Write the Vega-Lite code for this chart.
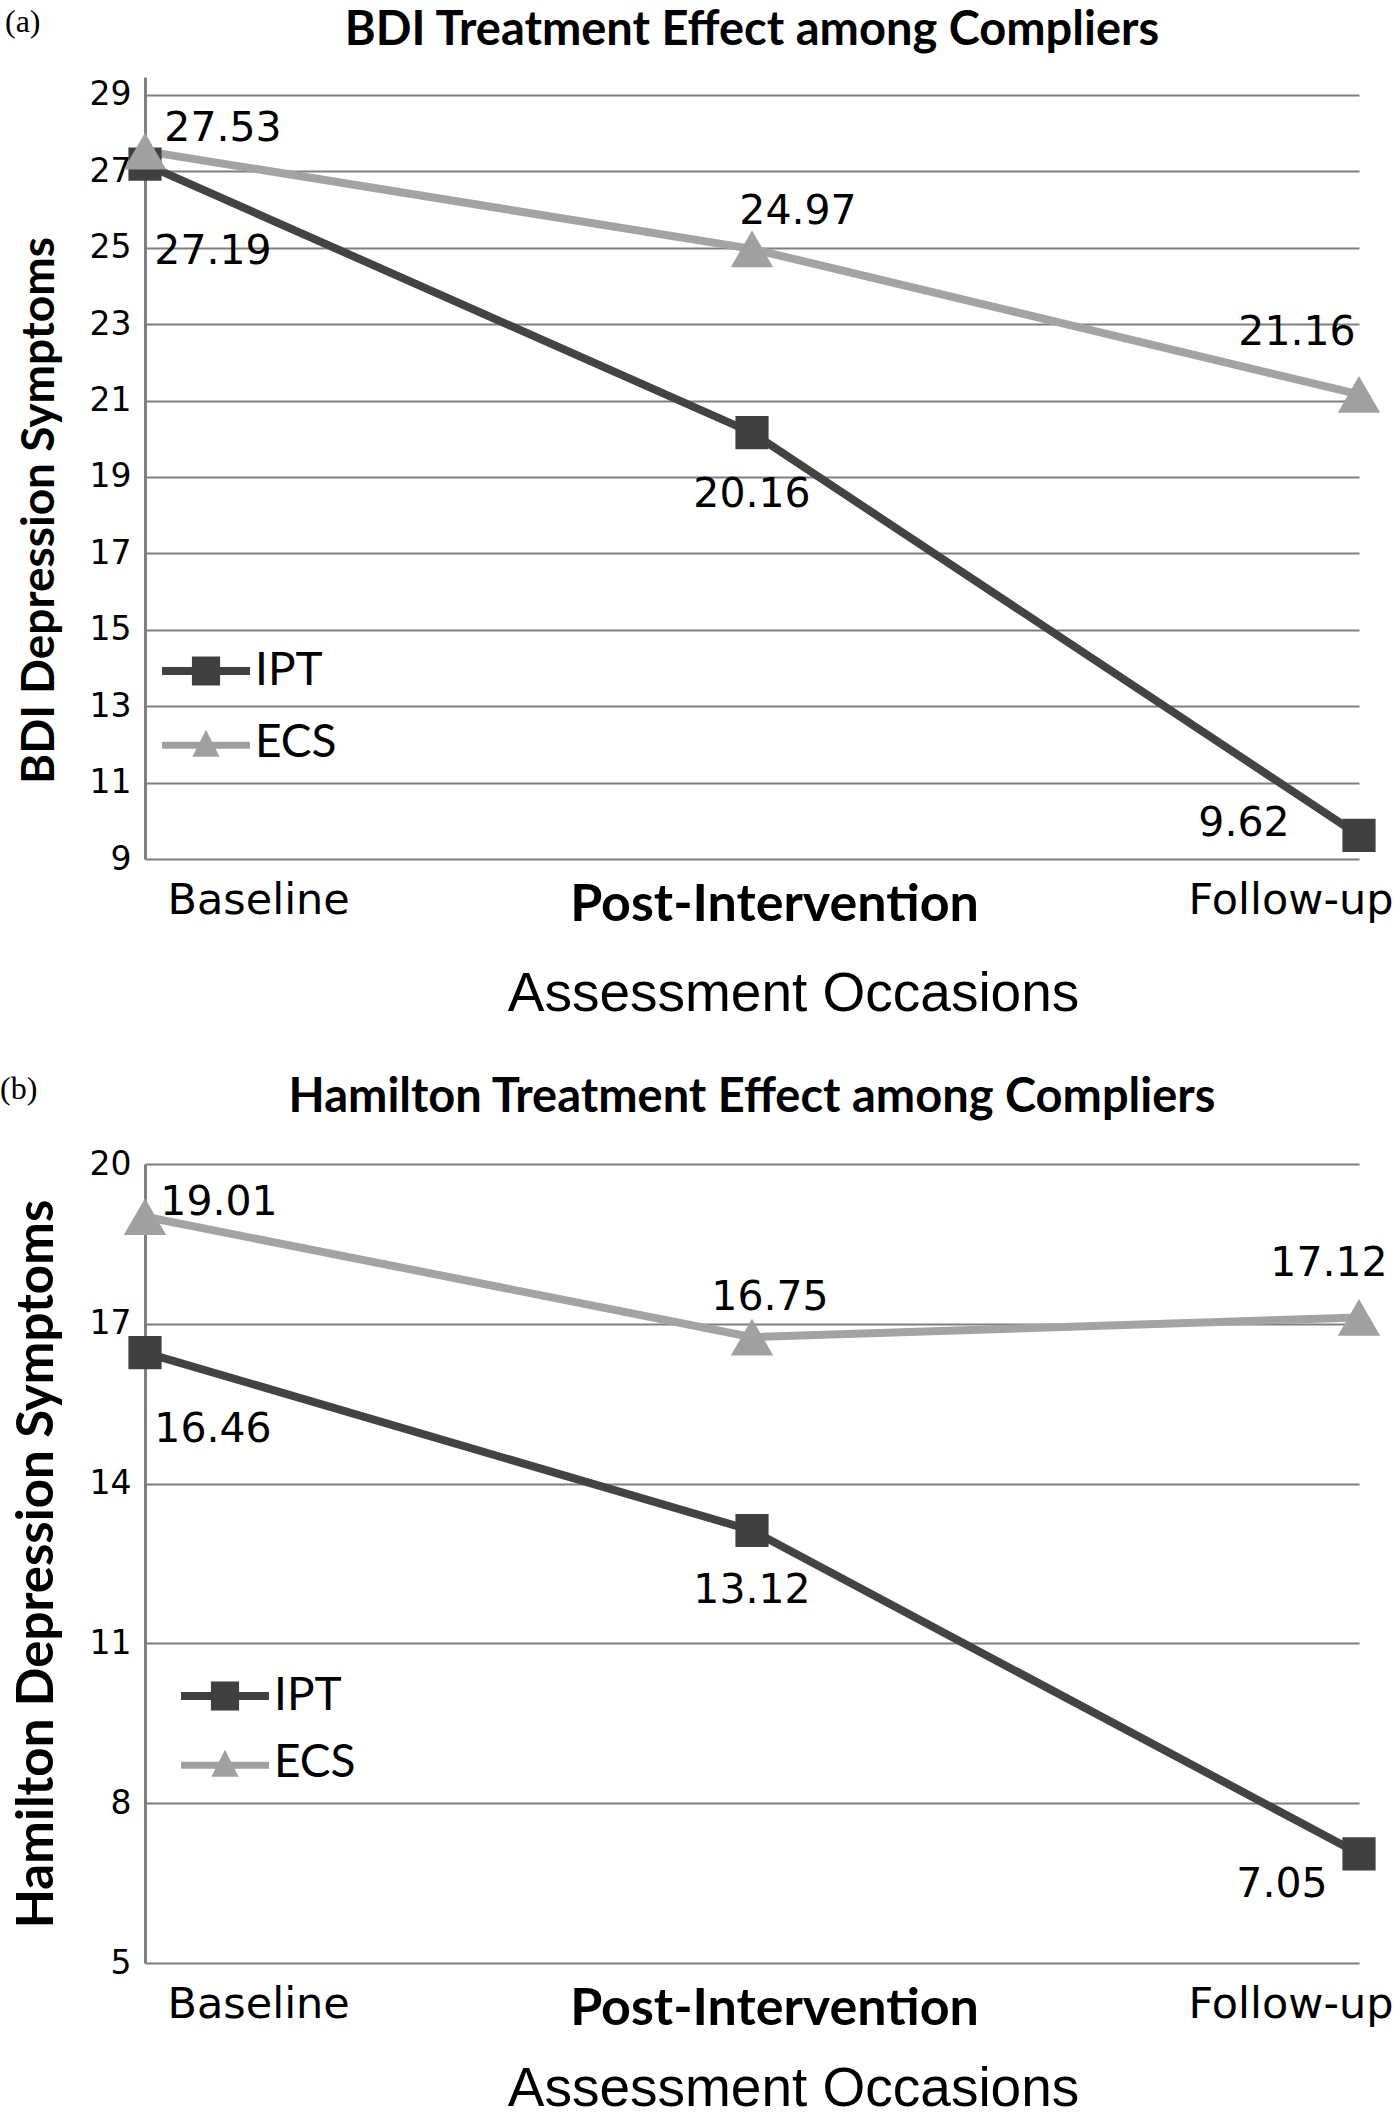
{
  "$schema": "https://vega.github.io/schema/vega-lite/v6.json",
  "background": "white",
  "padding": {"left": 0, "top": 6, "right": 0, "bottom": 0},
  "spacing": 52,
  "resolve": {"legend": {"shape": "independent", "fill": "independent"}},
  "datasets": {
    "bdi": [
      {"occasion": "Baseline", "group": "IPT", "value": 27.19},
      {"occasion": "Post-Intervention", "group": "IPT", "value": 20.16},
      {"occasion": "Follow-up", "group": "IPT", "value": 9.62},
      {"occasion": "Baseline", "group": "ECS", "value": 27.53},
      {"occasion": "Post-Intervention", "group": "ECS", "value": 24.97},
      {"occasion": "Follow-up", "group": "ECS", "value": 21.16}
    ],
    "ham": [
      {"occasion": "Baseline", "group": "IPT", "value": 16.46},
      {"occasion": "Post-Intervention", "group": "IPT", "value": 13.12},
      {"occasion": "Follow-up", "group": "IPT", "value": 7.05},
      {"occasion": "Baseline", "group": "ECS", "value": 19.01},
      {"occasion": "Post-Intervention", "group": "ECS", "value": 16.75},
      {"occasion": "Follow-up", "group": "ECS", "value": 17.12}
    ]
  },
  "config": {
    "view": {"stroke": null},
    "axisX": {
      "domain": false, "ticks": false, "grid": false, "labelAngle": 0, "labelColor": "#000", "labelLimit": 0,
      "labelFont": {"expr": "datum.value === 'Post-Intervention' ? 'Lato' : 'DejaVu Sans'"},
      "labelFontWeight": {"expr": "datum.value === 'Post-Intervention' ? 'bold' : 'normal'"},
      "labelFontSize": {"expr": "datum.value === 'Post-Intervention' ? 52 : 43"},
      "labelAlign": {"expr": "datum.value === 'Baseline' ? 'left' : datum.value === 'Follow-up' ? 'right' : 'center'"},
      "labelOffset": {"expr": "datum.value === 'Follow-up' ? 34 : 22"},
      "labelPadding": 20, "labelOverlap": false, "labelBound": false, "labelFlush": false, "labelBaseline": "top",
      "titleFont": "Liberation Sans", "titleFontSize": 55, "titleFontWeight": "normal", "titleColor": "#000", "titlePadding": 37, "titleX": 648
    },
    "axisY": {
      "grid": true, "gridColor": "#7f7f7f", "gridWidth": 2.2, "domainColor": "#7f7f7f", "domainWidth": 3, "ticks": false,
      "labelFont": "DejaVu Sans", "labelFontSize": 33, "labelColor": "#000", "labelPadding": 14,
      "titleFont": "Lato", "titleFontWeight": "bold", "titleColor": "#000", "titlePadding": 26
    },
    "legend": {
      "orient": "none", "labelFont": "Lato", "labelFontSize": 46, "labelColor": "#000",
      "labelOffset": 5, "symbolStrokeWidth": 0, "symbolSize": 7744, "symbolOpacity": 1
    }
  },
  "vconcat": [
    {
      "title": {"text": "(a)", "anchor": "start", "font": "Liberation Serif", "fontSize": 32, "fontWeight": "normal", "color": "#000", "offset": -32, "frame": "bounds", "dx": -11},
      "resolve": {"legend": {"shape": "independent", "fill": "independent"}},
      "vconcat": [
        {
          "width": 1214, "height": 782,
          "title": {"text": "BDI Treatment Effect among Compliers", "font": "Lato", "fontSize": 47, "fontWeight": "bold", "anchor": "middle", "offset": 22, "color": "#000"},
          "data": {"name": "bdi"},
          "encoding": {
            "x": {"field": "occasion", "type": "ordinal", "scale": {"type": "point", "padding": 0, "domain": ["Baseline", "Post-Intervention", "Follow-up"]}, "axis": {"title": "Assessment Occasions"}},
            "y": {"field": "value", "type": "quantitative", "scale": {"domain": [9, 29.47], "nice": false, "zero": false}, "axis": {"title": "BDI Depression Symptoms", "titleFontSize": 46, "values": [9, 11, 13, 15, 17, 19, 21, 23, 25, 27, 29], "titleY": 433}}
          },
          "layer": [
            {"mark": {"type": "line", "strokeWidth": 8}, "encoding": {"color": {"field": "group", "type": "nominal", "scale": {"domain": ["IPT", "ECS"], "range": ["#434343", "#a3a3a3"]}, "legend": null}}},
            {"transform": [{"filter": "datum.group === 'IPT'"}], "mark": {"type": "point", "shape": "square", "filled": true, "size": 1100, "color": "#404040", "opacity": 1}},
            {"transform": [{"filter": "datum.group === 'ECS'"}], "mark": {"type": "point", "shape": "triangle-up", "filled": true, "size": 1800, "color": "#a0a0a0", "opacity": 1}},
            {
              "transform": [{"filter": "false"}],
              "mark": {"type": "point", "filled": true, "size": 7744, "opacity": 1},
              "encoding": {
                "shape": {"field": "group", "type": "nominal", "scale": {"domain": ["IPT", "ECS"], "range": ["M-1,-0.09L1,-0.09L1,0.09L-1,0.09Z M-0.32,-0.33L0.32,-0.33L0.32,0.33L-0.32,0.33Z", "M-1,-0.03L1,-0.03L1,0.13L-1,0.13Z M0,-0.30L0.31,0.31L-0.31,0.31Z"]}, "legend": {"title": null, "orient": "none", "legendX": 17, "legendY": 550, "rowPadding": 5}},
                "fill": {"field": "group", "type": "nominal", "scale": {"domain": ["IPT", "ECS"], "range": ["#404040", "#a0a0a0"]}, "legend": {"title": null, "orient": "none", "legendX": 17, "legendY": 550, "rowPadding": 5}}
              }
            },
            {"transform": [{"filter": "datum.group === 'ECS' && datum.occasion === 'Baseline'"}], "mark": {"type": "text", "font": "DejaVu Sans", "fontSize": 41, "color": "#000", "align": "center", "baseline": "middle", "dx": 78, "dy": -22}, "encoding": {"text": {"field": "value", "type": "quantitative", "format": ".2f"}}},
            {"transform": [{"filter": "datum.group === 'IPT' && datum.occasion === 'Baseline'"}], "mark": {"type": "text", "font": "DejaVu Sans", "fontSize": 41, "color": "#000", "align": "center", "baseline": "middle", "dx": 68, "dy": 88}, "encoding": {"text": {"field": "value", "type": "quantitative", "format": ".2f"}}},
            {"transform": [{"filter": "datum.group === 'ECS' && datum.occasion === 'Post-Intervention'"}], "mark": {"type": "text", "font": "DejaVu Sans", "fontSize": 41, "color": "#000", "align": "center", "baseline": "middle", "dx": 46, "dy": -37}, "encoding": {"text": {"field": "value", "type": "quantitative", "format": ".2f"}}},
            {"transform": [{"filter": "datum.group === 'IPT' && datum.occasion === 'Post-Intervention'"}], "mark": {"type": "text", "font": "DejaVu Sans", "fontSize": 41, "color": "#000", "align": "center", "baseline": "middle", "dx": 0, "dy": 62}, "encoding": {"text": {"field": "value", "type": "quantitative", "format": ".2f"}}},
            {"transform": [{"filter": "datum.group === 'ECS' && datum.occasion === 'Follow-up'"}], "mark": {"type": "text", "font": "DejaVu Sans", "fontSize": 41, "color": "#000", "align": "center", "baseline": "middle", "dx": -62, "dy": -61}, "encoding": {"text": {"field": "value", "type": "quantitative", "format": ".2f"}}},
            {"transform": [{"filter": "datum.group === 'IPT' && datum.occasion === 'Follow-up'"}], "mark": {"type": "text", "font": "DejaVu Sans", "fontSize": 41, "color": "#000", "align": "center", "baseline": "middle", "dx": -115, "dy": -11}, "encoding": {"text": {"field": "value", "type": "quantitative", "format": ".2f"}}}
          ]
        }
      ]
    },
    {
      "title": {"text": "(b)", "anchor": "start", "font": "Liberation Serif", "fontSize": 32, "fontWeight": "normal", "color": "#000", "offset": -32, "frame": "bounds", "dx": -11},
      "resolve": {"legend": {"shape": "independent", "fill": "independent"}},
      "vconcat": [
        {
          "width": 1214, "height": 799,
          "title": {"text": "Hamilton Treatment Effect  among Compliers", "font": "Lato", "fontSize": 47, "fontWeight": "bold", "anchor": "middle", "offset": 26, "color": "#000"},
          "data": {"name": "ham"},
          "encoding": {
            "x": {"field": "occasion", "type": "ordinal", "scale": {"type": "point", "padding": 0, "domain": ["Baseline", "Post-Intervention", "Follow-up"]}, "axis": {"title": "Assessment Occasions", "titlePadding": 28}},
            "y": {"field": "value", "type": "quantitative", "scale": {"domain": [5, 20], "nice": false, "zero": false}, "axis": {"title": "Hamilton Depression Symptoms", "titleFontSize": 51, "values": [5, 8, 11, 14, 17, 20]}}
          },
          "layer": [
            {"mark": {"type": "line", "strokeWidth": 8}, "encoding": {"color": {"field": "group", "type": "nominal", "scale": {"domain": ["IPT", "ECS"], "range": ["#434343", "#a3a3a3"]}, "legend": null}}},
            {"transform": [{"filter": "datum.group === 'IPT'"}], "mark": {"type": "point", "shape": "square", "filled": true, "size": 1100, "color": "#404040", "opacity": 1}},
            {"transform": [{"filter": "datum.group === 'ECS'"}], "mark": {"type": "point", "shape": "triangle-up", "filled": true, "size": 1800, "color": "#a0a0a0", "opacity": 1}},
            {
              "transform": [{"filter": "false"}],
              "mark": {"type": "point", "filled": true, "size": 7744, "opacity": 1},
              "encoding": {
                "shape": {"field": "group", "type": "nominal", "scale": {"domain": ["IPT", "ECS"], "range": ["M-1,-0.09L1,-0.09L1,0.09L-1,0.09Z M-0.32,-0.33L0.32,-0.33L0.32,0.33L-0.32,0.33Z", "M-1,-0.03L1,-0.03L1,0.13L-1,0.13Z M0,-0.30L0.31,0.31L-0.31,0.31Z"]}, "legend": {"title": null, "orient": "none", "legendX": 36, "legendY": 488, "rowPadding": -4}},
                "fill": {"field": "group", "type": "nominal", "scale": {"domain": ["IPT", "ECS"], "range": ["#404040", "#a0a0a0"]}, "legend": {"title": null, "orient": "none", "legendX": 36, "legendY": 488, "rowPadding": -4}}
              }
            },
            {"transform": [{"filter": "datum.group === 'ECS' && datum.occasion === 'Baseline'"}], "mark": {"type": "text", "font": "DejaVu Sans", "fontSize": 41, "color": "#000", "align": "center", "baseline": "middle", "dx": 74, "dy": -14}, "encoding": {"text": {"field": "value", "type": "quantitative", "format": ".2f"}}},
            {"transform": [{"filter": "datum.group === 'IPT' && datum.occasion === 'Baseline'"}], "mark": {"type": "text", "font": "DejaVu Sans", "fontSize": 41, "color": "#000", "align": "center", "baseline": "middle", "dx": 68, "dy": 77}, "encoding": {"text": {"field": "value", "type": "quantitative", "format": ".2f"}}},
            {"transform": [{"filter": "datum.group === 'ECS' && datum.occasion === 'Post-Intervention'"}], "mark": {"type": "text", "font": "DejaVu Sans", "fontSize": 41, "color": "#000", "align": "center", "baseline": "middle", "dx": 18, "dy": -39}, "encoding": {"text": {"field": "value", "type": "quantitative", "format": ".2f"}}},
            {"transform": [{"filter": "datum.group === 'IPT' && datum.occasion === 'Post-Intervention'"}], "mark": {"type": "text", "font": "DejaVu Sans", "fontSize": 41, "color": "#000", "align": "center", "baseline": "middle", "dx": 0, "dy": 61}, "encoding": {"text": {"field": "value", "type": "quantitative", "format": ".2f"}}},
            {"transform": [{"filter": "datum.group === 'ECS' && datum.occasion === 'Follow-up'"}], "mark": {"type": "text", "font": "DejaVu Sans", "fontSize": 41, "color": "#000", "align": "center", "baseline": "middle", "dx": -30, "dy": -53}, "encoding": {"text": {"field": "value", "type": "quantitative", "format": ".2f"}}},
            {"transform": [{"filter": "datum.group === 'IPT' && datum.occasion === 'Follow-up'"}], "mark": {"type": "text", "font": "DejaVu Sans", "fontSize": 41, "color": "#000", "align": "center", "baseline": "middle", "dx": -77, "dy": 31}, "encoding": {"text": {"field": "value", "type": "quantitative", "format": ".2f"}}}
          ]
        }
      ]
    }
  ]
}
